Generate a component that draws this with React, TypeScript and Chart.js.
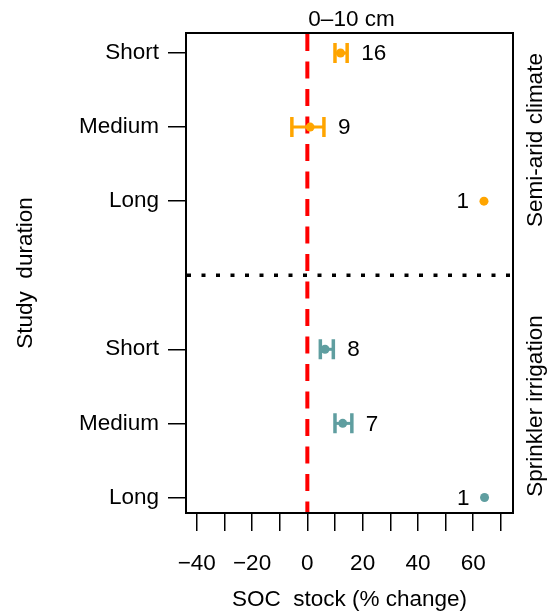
import React, { useEffect, useRef } from "react";
import { Chart, registerables } from "chart.js";

Chart.register(...registerables);

// ---- data ----
const durations = ["Short", "Medium", "Long"];
const groups = ["Semi-arid climate", "Sprinkler irrigation"];
const semiMean = [12.0, 1.0, 63.9];
const semiLow: (number | null)[] = [10.0, -5.6, null];
const semiHigh: (number | null)[] = [14.4, 6.0, null];
const semiN = [16, 9, 1];
const sprMean = [6.4, 12.8, 64.1];
const sprLow: (number | null)[] = [4.7, 10.0, null];
const sprHigh: (number | null)[] = [9.4, 16.1, null];
const sprN = [8, 7, 1];
const yPositions = [0, 1, 2, 4, 5, 6];
const yLabels = ["Short", "Medium", "Long", "Short", "Medium", "Long"];
const xTickValues = [-40, -30, -20, -10, 0, 10, 20, 30, 40, 50, 60, 70];
const xLabelValues = [-40, -20, 0, 20, 40, 60];
const dividerValue = 3;
const title = "0\u201310 cm";
const xTitle = "SOC  stock (% change)";
const yTitle = "Study  duration";

const ORANGE = "#FFA500";
const TEAL = "#5F9EA0";
const FONT = "'Liberation Sans', Arial, sans-serif";
const FS = 22.5;

export default function App() {
  const ref = useRef<HTMLCanvasElement | null>(null);

  useEffect(() => {
    if (!ref.current) return;
    const series = [
      { mean: semiMean, low: semiLow, high: semiHigh, n: semiN, color: ORANGE, offset: 0, name: groups[0] },
      { mean: sprMean, low: sprLow, high: sprHigh, n: sprN, color: TEAL, offset: 4, name: groups[1] },
    ];

    const overlay = {
      id: "overlay",
      beforeDatasetsDraw(chart: any) {
        const { ctx, chartArea: a, scales } = chart;
        const xs = scales.x, ys = scales.y;
        ctx.save();
        // red dashed line at 0
        const x0 = xs.getPixelForValue(0);
        ctx.strokeStyle = "#FF0000";
        ctx.lineWidth = 4;
        ctx.setLineDash([17, 10.5]);
        ctx.beginPath();
        ctx.moveTo(x0, a.top + 1);
        ctx.lineTo(x0, a.bottom);
        ctx.stroke();
        // dotted divider
        const yd = ys.getPixelForValue(dividerValue);
        ctx.strokeStyle = "#000";
        ctx.lineWidth = 3.5;
        ctx.setLineDash([4, 10.5]);
        ctx.beginPath();
        ctx.moveTo(a.left + 1, yd);
        ctx.lineTo(a.right, yd);
        ctx.stroke();
        ctx.setLineDash([]);
        // error bars
        series.forEach((s) => {
          ctx.strokeStyle = s.color;
          s.mean.forEach((m, i) => {
            const lo = s.low[i], hi = s.high[i];
            if (lo == null || hi == null) return;
            const y = ys.getPixelForValue(s.offset + i);
            const xl = xs.getPixelForValue(lo), xh = xs.getPixelForValue(hi);
            ctx.lineWidth = 3;
            ctx.beginPath();
            ctx.moveTo(xl, y); ctx.lineTo(xh, y);
            ctx.stroke();
            ctx.lineWidth = 3.5;
            ctx.beginPath();
            ctx.moveTo(xl, y - 10); ctx.lineTo(xl, y + 10);
            ctx.moveTo(xh, y - 10); ctx.lineTo(xh, y + 10);
            ctx.stroke();
          });
        });
        ctx.restore();
      },
      afterDraw(chart: any) {
        const { ctx, chartArea: a, scales } = chart;
        const xs = scales.x, ys = scales.y;
        ctx.save();
        // box
        ctx.strokeStyle = "#000";
        ctx.lineWidth = 2;
        ctx.strokeRect(a.left, a.top, a.right - a.left, a.bottom - a.top);
        ctx.fillStyle = "#000";
        ctx.font = `${FS}px ${FONT}`;
        ctx.textBaseline = "middle";
        // counts
        series.forEach((s) => {
          s.mean.forEach((m, i) => {
            const y = ys.getPixelForValue(s.offset + i);
            const hi = s.high[i];
            if (hi != null) {
              ctx.textAlign = "left";
              ctx.fillText(String(s.n[i]), xs.getPixelForValue(hi) + 14, y + 1);
            } else {
              ctx.textAlign = "right";
              ctx.fillText(String(s.n[i]), xs.getPixelForValue(m) - 15, y + 1);
            }
          });
        });
        // title
        ctx.textAlign = "center";
        ctx.fillText(title, (a.left + a.right) / 2 + 2, 20);
        // x title
        ctx.fillText(xTitle, (a.left + a.right) / 2, 600);
        // y title
        ctx.save();
        ctx.translate(26, (a.top + a.bottom) / 2);
        ctx.rotate(-Math.PI / 2);
        ctx.fillText(yTitle, 0, 0);
        ctx.restore();
        // right labels
        const rl = [140, 406];
        groups.forEach((g, k) => {
          ctx.save();
          ctx.translate(536, rl[k]);
          ctx.rotate(-Math.PI / 2);
          ctx.fillText(g, 0, 0);
          ctx.restore();
        });
        ctx.restore();
      },
    };

    const chart = new Chart(ref.current, {
      type: "scatter",
      data: {
        datasets: series.map((s) => ({
          label: s.name,
          data: s.mean.map((m, i) => ({ x: m, y: s.offset + i })),
          backgroundColor: s.color,
          borderColor: s.color,
          pointRadius: 4.5,
          pointBorderWidth: 0,
        })),
      },
      options: {
        animation: false,
        responsive: false,
        maintainAspectRatio: false,
        layout: { padding: { left: 0, top: 33, right: 39, bottom: 0 } },
        plugins: { legend: { display: false }, tooltip: { enabled: false }, title: { display: false } },
        scales: {
          x: {
            type: "linear",
            min: -43.9,
            max: 74.4,
            afterBuildTicks: (scale: any) => {
              scale.ticks = xTickValues.map((v) => ({ value: v }));
            },
            afterFit: (scale: any) => {
              scale.height = 101;
            },
            ticks: {
              autoSkip: false,
              maxRotation: 0,
              color: "#000",
              padding: 19,
              font: { family: FONT, size: FS },
              callback: (v: any) => (xLabelValues.includes(Number(v)) ? String(v).replace("-", "\u2212") : ""),
            },
            grid: { drawOnChartArea: false, drawTicks: true, tickLength: 18, color: "#000", lineWidth: 1.5 },
            border: { display: false },
          },
          y: {
            type: "linear",
            min: -0.27,
            max: 6.21,
            reverse: true,
            afterBuildTicks: (scale: any) => {
              scale.ticks = yPositions.map((v) => ({ value: v }));
            },
            afterFit: (scale: any) => {
              scale.width = 186;
            },
            ticks: {
              autoSkip: false,
              color: "#000",
              padding: 9,
              font: { family: FONT, size: FS },
              callback: (v: any) => {
                const idx = yPositions.indexOf(Number(v));
                return idx >= 0 ? yLabels[idx] : "";
              },
            },
            grid: { drawOnChartArea: false, drawTicks: true, tickLength: 18, color: "#000", lineWidth: 1.5 },
            border: { display: false },
          },
        },
      },
      plugins: [overlay],
    } as any);
    return () => chart.destroy();
  }, []);

  return (
    <div style={{ position: "fixed", left: 0, top: 0, width: 552, height: 614, background: "#fff" }}>
      <canvas ref={ref} width={552} height={614} style={{ width: 552, height: 614, display: "block" }} />
    </div>
  );
}
